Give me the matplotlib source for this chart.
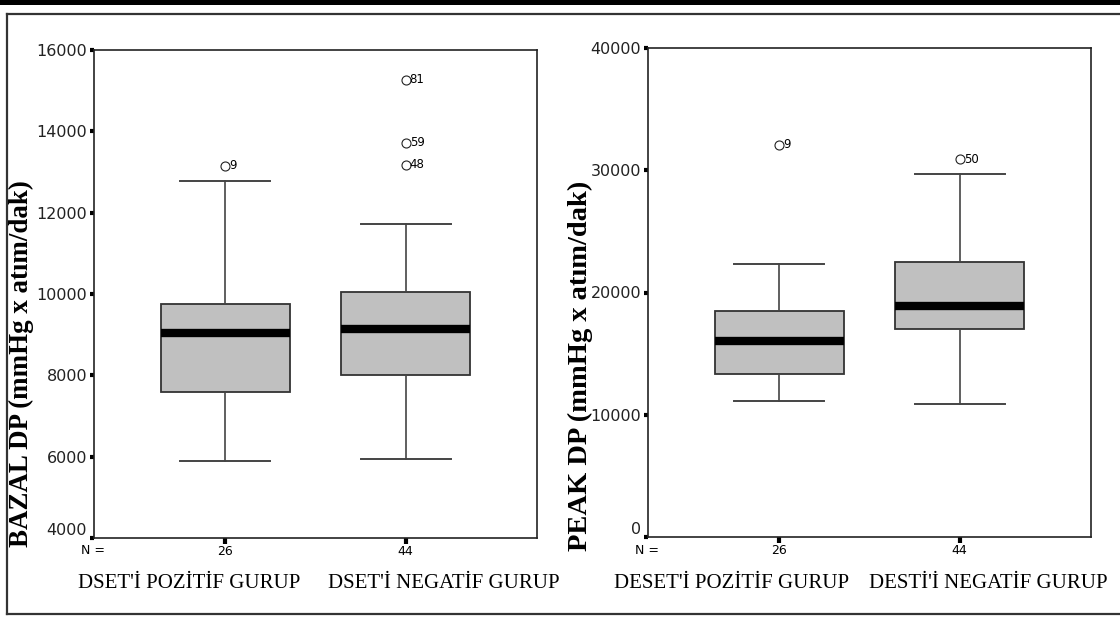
import matplotlib.pyplot as plt
from matplotlib.lines import Line2D
from matplotlib.patches import Rectangle

# group sizes and category names
n_counts = ["26", "44"]
left_groups = ["DSET'İ POZİTİF GURUP", "DSET'İ NEGATİF GURUP"]
right_groups = ["DESET'İ POZİTİF GURUP", "DESTİ'İ NEGATİF GURUP"]

# BAZAL DP box summaries: whislo, q1, med, q3, whishi
bazal_pos = [5900, 7580, 9050, 9750, 12780]
bazal_neg = [5950, 8020, 9150, 10050, 11720]
bazal_pos_out = [13150]
bazal_pos_ids = ["9"]
bazal_neg_out = [15270, 13720, 13180]
bazal_neg_ids = ["81", "59", "48"]

# PEAK DP box summaries
peak_pos = [11100, 13300, 16000, 18500, 22300]
peak_neg = [10900, 17050, 18900, 22500, 29700]
peak_pos_out = [32100]
peak_pos_ids = ["9"]
peak_neg_out = [30900]
peak_neg_ids = ["50"]

W, H = 1120, 624
fig = plt.figure(figsize=(W / 100, H / 100), dpi=100)


def px(x0, y0, x1, y1):
    return [x0 / W, 1 - y1 / H, (x1 - x0) / W, (y1 - y0) / H]


def stats(vals, outs):
    return dict(whislo=vals[0], q1=vals[1], med=vals[2], q3=vals[3],
                whishi=vals[4], fliers=outs)


def draw_panel(ax, boxes, outs, ids, ylim, yticks):
    st = [stats(b, o) for b, o in zip(boxes, outs)]
    ax.bxp(st, positions=[1, 2], widths=0.72, capwidths=0.5,
           showfliers=True, patch_artist=True,
           boxprops=dict(facecolor='#c0c0c0', edgecolor='#333333', linewidth=1.3),
           medianprops=dict(color='black', linewidth=6, solid_capstyle='butt'),
           whiskerprops=dict(color='#444444', linewidth=1.2),
           capprops=dict(color='#444444', linewidth=1.4),
           flierprops=dict(marker='o', markersize=6.5, markerfacecolor='none',
                           markeredgecolor='#222222', markeredgewidth=0.8))
    for pos, o, lab in zip([1, 2], outs, ids):
        for v, t in zip(o, lab):
            ax.annotate(t, (pos, v), xytext=(3, 0), textcoords='offset points',
                        va='center', ha='left', fontsize=8.5)
    ax.set_xlim(0.27, 2.73)
    ax.set_ylim(*ylim)
    ax.set_yticks(yticks)
    labels = ax.set_yticklabels([str(t) for t in yticks], fontsize=11.5,
                                color='#222222')
    labels[0].set_va('bottom')  # lowest label sits above the corner
    ax.tick_params(axis='y', direction='out', length=3, width=3, pad=2, color='black')
    ax.set_xticks([1, 2])
    ax.set_xticklabels(n_counts, fontsize=9)
    ax.tick_params(axis='x', direction='out', length=4, width=3, pad=1, color='black')
    for s in ax.spines.values():
        s.set_linewidth(1.2)
        s.set_color('#222222')


ax1 = fig.add_axes(px(94, 50, 537, 538))
draw_panel(ax1, [bazal_pos, bazal_neg], [bazal_pos_out, bazal_neg_out],
           [bazal_pos_ids, bazal_neg_ids], (4000, 16000),
           [4000, 6000, 8000, 10000, 12000, 14000, 16000])

ax2 = fig.add_axes(px(648, 48, 1091, 537))
draw_panel(ax2, [peak_pos, peak_neg], [peak_pos_out, peak_neg_out],
           [peak_pos_ids, peak_neg_ids], (0, 40000),
           [0, 10000, 20000, 30000, 40000])

for xn in [81, 635]:
    fig.text(xn / W, 1 - 551 / H, "N =", fontsize=9, ha='left', va='center')

serif = 'Liberation Serif'
fig.text(21 / W, 1 - 364 / H, "BAZAL DP (mmHg x atım/dak)", rotation=90,
         ha='center', va='center', fontsize=19.4, fontweight='bold', family=serif)
fig.text(580 / W, 1 - 366 / H, "PEAK DP (mmHg x atım/dak)", rotation=90,
         ha='center', va='center', fontsize=20.5, fontweight='bold', family=serif)

for xc, t in zip([189, 444, 732, 988], left_groups + right_groups):
    fig.text(xc / W, 1 - 584 / H, t, ha='center', va='center',
             fontsize=15, family=serif)

# page frame
fig.add_artist(Rectangle((0, 1 - 5 / H), 1, 5 / H, transform=fig.transFigure,
                         color='black', lw=0))
fig.add_artist(Line2D([7 / W, 1], [1 - 14 / H] * 2, transform=fig.transFigure,
                      color='#333333', lw=1.6))
fig.add_artist(Line2D([7 / W, 1], [1 - 614 / H] * 2, transform=fig.transFigure,
                      color='#333333', lw=1.6))
fig.add_artist(Line2D([7 / W] * 2, [1 - 14 / H, 1 - 614 / H], transform=fig.transFigure,
                      color='#333333', lw=1.6))

fig.savefig('out.png', dpi=100)
